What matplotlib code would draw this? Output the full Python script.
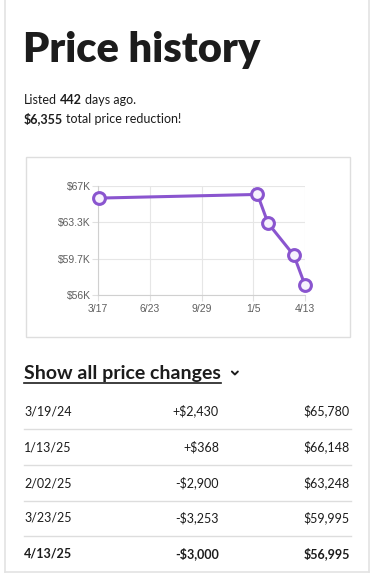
#!/usr/bin/env python3
"""Price history card: listing price line chart plus change table."""

from datetime import datetime

import matplotlib.pyplot as plt
from matplotlib.patches import Rectangle

CHANGE_DATES = ["3/19/24", "1/13/25", "2/02/25", "3/23/25", "4/13/25"]
CHANGES = ["+$2,430", "+$368", "-$2,900", "-$3,253", "-$3,000"]
PRICES = [65780, 66148, 63248, 59995, 56995]

X_TICKS = ["2024-03-17", "2024-06-23", "2024-09-29", "2025-01-05", "2025-04-13"]
Y_TICKS = [56000, 59666.67, 63333.33, 67000]
Y_TICK_LABELS = ["$56K", "$59.7K", "$63.3K", "$67K"]

DAYS_LISTED = 442
TOTAL_REDUCTION = "$6,355"

W, H = 374, 575
TEXT = "#1c1c1c"
PURPLE = "#8a55cf"
BODY_FONT = ["Lato", "DejaVu Sans"]


def px_axes(fig, left, top, right, bottom):
    return fig.add_axes([left / W, 1 - bottom / H, (right - left) / W, (bottom - top) / H])


def main() -> None:
    fig = plt.figure(figsize=(W / 100, H / 100), dpi=100, facecolor="white")
    bg = fig.add_axes([0, 0, 1, 1])
    bg.set_xlim(0, W)
    bg.set_ylim(H, 0)
    bg.axis("off")

    # card edges
    for x in (5, 369):
        bg.plot([x, x], [0, 572], color="#e3e3e3", lw=1.2)
    bg.plot([5, 369], [572, 572], color="#e3e3e3", lw=1.2)

    bg.text(23, 62, "Price history", fontsize=30, fontweight="heavy", color=TEXT,
            family=["Lato", "DejaVu Sans"], va="baseline")

    kw = dict(fontsize=9, color=TEXT, family=BODY_FONT, va="bottom",
              textcoords="offset pixels", xytext=(3, 0))
    t = bg.text(24, 104, "Listed", fontsize=9, color=TEXT, family=BODY_FONT, va="baseline")
    t = bg.annotate(str(DAYS_LISTED), xy=(1, 0), xycoords=t, fontweight="bold", **kw)
    bg.annotate("days ago.", xy=(1, 0), xycoords=t, **kw)
    t = bg.text(24, 123, TOTAL_REDUCTION, fontsize=9, fontweight="bold", color=TEXT,
                family=BODY_FONT, va="baseline")
    bg.annotate("total price reduction!", xy=(1, 0), xycoords=t, **kw)

    # chart frame
    bg.add_patch(Rectangle((26, 157), 324, 180, fill=False, edgecolor="#dedede", lw=1))

    ax = px_axes(fig, 98, 186, 305, 295)
    dates = [datetime.strptime(d, "%m/%d/%y") for d in CHANGE_DATES]
    ticks = [datetime.strptime(d, "%Y-%m-%d") for d in X_TICKS]
    ax.plot(dates, PRICES, color=PURPLE, lw=2.2, marker="o", markersize=8.5,
            markerfacecolor="#f7f2fd", markeredgecolor=PURPLE, markeredgewidth=2.2,
            zorder=3, clip_on=False)
    ax.set_xlim(ticks[0], ticks[-1])
    ax.set_ylim(Y_TICKS[0], Y_TICKS[-1])
    ax.set_xticks(ticks)
    ax.set_xticklabels([f"{d.month}/{d.day}" for d in ticks])
    ax.set_yticks(Y_TICKS)
    ax.set_yticklabels(Y_TICK_LABELS)
    ax.grid(True, color="#e6e6e6", lw=0.8)
    for side in ("top", "right"):
        ax.spines[side].set_visible(False)
    for side in ("left", "bottom"):
        ax.spines[side].set_color("#d0d0d0")
        ax.spines[side].set_linewidth(0.8)
    ax.tick_params(length=4, width=0.8, color="#e0e0e0", labelsize=7.5, labelcolor="#5e5e5e")
    ax.tick_params(axis="y", pad=1)
    ax.tick_params(axis="x", pad=2.5)
    for lab in ax.get_xticklabels() + ax.get_yticklabels():
        lab.set_family(["Liberation Sans", "DejaVu Sans"])

    # show all price changes
    link = bg.text(24, 379, "Show all price changes", fontsize=14, fontweight="bold",
                   color=TEXT, family=BODY_FONT, va="baseline")
    fig.canvas.draw()
    bb = link.get_window_extent().transformed(bg.transData.inverted())
    bg.plot([bb.x0, bb.x1], [383, 383], color=TEXT, lw=1.2)
    cx = bb.x1 + 14
    bg.plot([cx - 3, cx, cx + 3], [371.5, 374.5, 371.5], color=TEXT, lw=1.4,
            solid_capstyle="round", solid_joinstyle="round")

    row_y = [411, 447, 483, 518, 554]
    for i, (d, c, p) in enumerate(zip(CHANGE_DATES, CHANGES, PRICES)):
        y = row_y[i]
        weight = "bold" if i == len(PRICES) - 1 else "normal"
        kw = dict(fontsize=9, color=TEXT, family=BODY_FONT, va="center", fontweight=weight)
        bg.text(24, y, d, ha="left", **kw)
        bg.text(219, y, c, ha="right", **kw)
        bg.text(350, y, f"${p:,}", ha="right", **kw)
        if i < len(PRICES) - 1:
            sep = (row_y[i] + row_y[i + 1]) / 2
            bg.plot([24, 351], [sep, sep], color="#dddddd", lw=1)

    fig.savefig("out.png", dpi=100, facecolor="white")
    plt.close(fig)


if __name__ == "__main__":
    main()
